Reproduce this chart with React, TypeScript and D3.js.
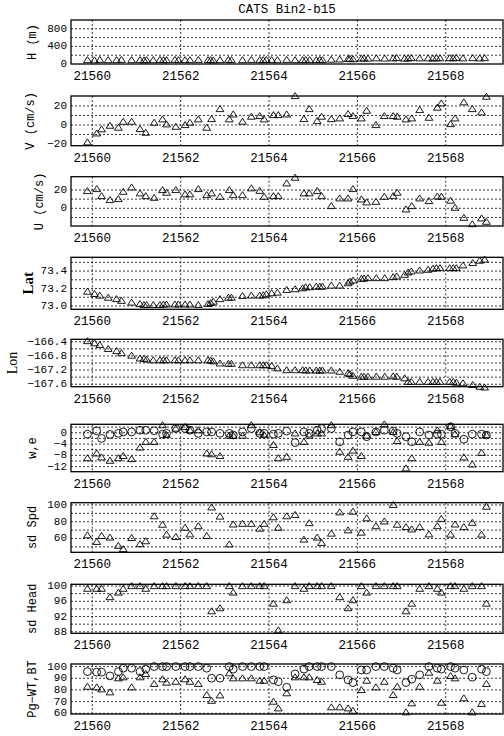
import React from "react";
import * as d3 from "d3";

// ---------- data ----------
const navTimes = [
  21559.89, 21560.05, 21560.17, 21560.36, 21560.55, 21560.66, 21560.89, 21561.08, 21561.17, 21561.23,
  21561.38, 21561.53, 21561.61, 21561.68, 21561.87, 21561.95, 21562.10, 21562.21, 21562.40, 21562.62,
  21562.68, 21562.74, 21562.89, 21563.08, 21563.15, 21563.40, 21563.60, 21563.79, 21563.87, 21563.94,
  21564.06, 21564.19, 21564.40, 21564.59, 21564.76, 21564.83, 21564.92, 21565.07, 21565.15, 21565.21,
  21565.41, 21565.60, 21565.79, 21565.83, 21565.90, 21566.09, 21566.15, 21566.24, 21566.43, 21566.62,
  21566.81, 21566.89, 21567.07, 21567.15, 21567.22, 21567.41, 21567.60, 21567.71, 21567.79, 21567.87,
  21568.09, 21568.17, 21568.24, 21568.39, 21568.61, 21568.77, 21568.88,
];
const hVals = [
  90, 85, 95, 90, 90, 95, 90, 90, 85, 90,
  90, 95, 90, 90, 95, 90, 90, 90, 95, 90,
  90, 85, 90, 95, 90, 90, 95, 90, 90, 95,
  90, 90, 95, 90, 90, 95, 90, 90, 95, 90,
  100, 105, 115, 120, 110, 125, 130, 125, 130, 125,
  130, 135, 125, 130, 135, 130, 130, 125, 135, 130,
  135, 130, 140, 130, 135, 130, 135,
];
const latVals = [
  73.165, 73.139, 73.12, 73.096, 73.08, 73.06, 73.04, 73.023, 73.012, 73.012,
  73.012, 73.012, 73.018, 73.018, 73.018, 73.018, 73.018, 73.018, 73.012, 73.023,
  73.035, 73.05, 73.08, 73.096, 73.096, 73.116, 73.12, 73.12, 73.124, 73.135,
  73.147, 73.154, 73.185, 73.193, 73.204, 73.216, 73.216, 73.223, 73.223, 73.223,
  73.235, 73.235, 73.262, 73.281, 73.293, 73.312, 73.316, 73.32, 73.32, 73.32,
  73.332, 73.339, 73.358, 73.385, 73.397, 73.408, 73.416, 73.428, 73.435, 73.435,
  73.435, 73.435, 73.435, 73.466, 73.493, 73.52, 73.532,
];
const lonVals = [
  -166.38, -166.44, -166.49, -166.6, -166.66, -166.72, -166.79, -166.87, -166.88, -166.9,
  -166.92, -166.92, -166.92, -166.92, -166.92, -166.92, -166.92, -166.92, -166.92, -166.92,
  -166.93, -166.95, -167.01, -167.02, -167.02, -167.06, -167.06, -167.06, -167.06, -167.06,
  -167.08, -167.15, -167.2, -167.2, -167.2, -167.21, -167.21, -167.21, -167.21, -167.21,
  -167.21, -167.245, -167.29, -167.31, -167.36, -167.385, -167.385, -167.385, -167.385, -167.385,
  -167.375, -167.385, -167.43, -167.53, -167.53, -167.53, -167.53, -167.53, -167.53, -167.53,
  -167.53, -167.53, -167.555, -167.57, -167.62, -167.67, -167.69,
];

const adcpTimes = [
  21559.89, 21560.10, 21560.21, 21560.40, 21560.59, 21560.70, 21560.89, 21561.08, 21561.21, 21561.40,
  21561.59, 21561.68, 21561.89, 21562.10, 21562.21, 21562.40, 21562.59, 21562.70, 21562.89, 21563.10,
  21563.19, 21563.40, 21563.60, 21563.79, 21563.89, 21564.10, 21564.21, 21564.40, 21564.59, 21564.79,
  21564.91, 21565.09, 21565.19, 21565.41, 21565.60, 21565.79, 21565.90, 21566.09, 21566.21, 21566.42,
  21566.61, 21566.81, 21566.90, 21567.10, 21567.23, 21567.41, 21567.62, 21567.81, 21567.90, 21568.11,
  21568.21, 21568.41, 21568.60, 21568.81, 21568.92,
];
const vVals = [
  -18.2, -8.8, -4.5, -0.7, -2.8, 3.5, 3.5, -4.2, -8.1, 2.5,
  6, 0.7, -1.8, 0, 2.5, 6, -2.8, 6.3, 16.8, 6,
  11.2, 3.5, 8.8, 9.5, 6, 10.5, 10.5, 11.2, 30.5, 6.3,
  16.8, 4.2, 8.8, 6.3, 7, 11.6, 9.5, 7, 15.1, 0,
  9.5, 9.5, 8.8, 6, 7, 15.8, 7.7, 18.3, 22.8, 1,
  7, 23.9, 16.8, 13.3, 29.8,
];
const uVals = [
  18.9, 21.1, 13.4, 9.1, 10.2, 18.1, 22.9, 16.4, 13.4, 11.6,
  20, 17.1, 20, 15.3, 15.3, 21.1, 14.5, 16.4, 12.7, 20,
  14.5, 14.5, 21.9, 19.2, 12.7, 13.4, 13.4, 27.3, 33.5, 16.4,
  16.4, 18.9, 13.4, 2.5, 10.9, 10.9, 21.1, 9.8, 6.6, 7.2,
  12.7, 13.4, 17.1, -1.1, 2.5, 10.9, 8, 13, 12.7, 8.4,
  0.7, -10.3, -17.2, -10.9, -14.6,
];
const wVals = [
  -9.0, -7.3, -8.7, -9.9, -9.0, -8.2, -9.3, -5.2, -3.2, -3.2,
  2.7, -0.8, 1.5, 2.1, 0.9, 0.9, -7.3, -7.6, -8.2, -1.0,
  -1.0, -1.0, 2.7, 0.2, -0.8, -4.3, -9.0, -8.5, -0.2, -3.2,
  -1.0, -0.2, -0.2, 2.7, -6.7, -8.5, -6.3, -8.2, -1.0, 0.3,
  3.0, 0.3, -2.9, -12.6, -9.0, -3.2, -3.5, 0.9, -3.2, 2.4,
  -0.5, -8.7, -11.2, -7.1, -0.8,
];
const eVals = [
  -0.5, 0.7, -2.0, -0.6, -0.2, 0.3, 0.3, 0.9, 0.9, 0.7,
  -0.5, -0.2, 1.5, 1.5, 0.9, -0.2, 0.3, 0.3, -0.2, -0.2,
  -0.8, 0.3, 1.5, -0.2, -0.2, -0.5, -0.2, 0.6, -3.5, 0.3,
  -0.2, 0.9, 1.5, 1.5, -3.2, -0.8, 0.3, 0.3, -1.4, 0.3,
  0.9, 0.6, -0.2, -1.4, -3.2, 0.3, -0.8, -0.5, -0.5, 2.1,
  -0.2, -2.3, -0.5, -0.5, -0.8,
];
const sdSpdVals = [
  63.9, 56, 63.1, 61.2, 51.3, 47.4, 60.7, 53.3, 56.8, 86.6,
  76.5, 64.7, 61.9, 72.9, 65, 74.8, 63.1, 97.2, 86.2, 53,
  76.8, 77.6, 77.6, 71.8, 77.6, 85.4, 72.9, 86.6, 88.2, 58.8,
  78.4, 61.2, 54.8, 65.9, 91.3, 69.8, 92.1, 67.1, 84.2, 74.8,
  80.4, 100, 76.5, 73.7, 70.9, 73.7, 65, 74.8, 83.5, 64.7,
  76.8, 73.7, 78.8, 64.7, 98,
];
const sdHeadVals = [
  99.3, 99.3, 99.3, 97.1, 98.3, 99.3, 100, 100, 99.3, 100,
  100, 100, 100, 100, 100, 100, 100, 93.4, 94.2, 100,
  98.3, 100, 100, 100, 100, 95.4, 88.4, 96.3, 100, 99.3,
  100, 100, 100, 100, 97.1, 94.2, 96.3, 100, 98.3, 100,
  100, 100, 100, 93.4, 95.4, 99.3, 100, 99.3, 98.3, 100,
  100, 99.3, 100, 100, 95.4,
];
const pgBtVals = [
  95.7, 95.2, 95.2, 92, 95.7, 98.6, 98.6, 95.7, 97.8, 100,
  100, 100, 100, 100, 100, 100, 98.6, 90, 90, 100,
  97.8, 100, 100, 100, 100, 88.6, 87.1, 82.3, 93.7, 97.8,
  100, 100, 100, 100, 92.9, 88.6, 86.3, 97.1, 97.1, 100,
  100, 98.6, 97.1, 86.3, 89.2, 92.9, 100, 98.6, 97.8, 100,
  98.6, 97.1, 90.9, 97.8, 95.7,
];
const pgWtVals = [
  82.8, 82.3, 80.6, 78, 90, 90.9, 82.3, 90.9, 93.7, 85.2,
  89.2, 86.3, 87.1, 89.2, 87.1, 85.2, 75.7, 70.8, 75.4, 94.3,
  90, 90, 90, 88, 88, 70, 64.3, 77.2, 90.9, 90.9,
  90.9, 88.6, 87.1, 65.2, 65.2, 64.3, 62.2, 80, 88, 82.3,
  87.1, 75.7, 82.8, 60.9, 68.6, 82.8, 94.8, 88, 69.1, 92,
  90, 72.9, 60.9, 68, 85.2,
];

const xTicks = [21560, 21562, 21564, 21566, 21568];
const title = "CATS Bin2-b15";

// ---------- layout ----------
const W = 504;
const H = 736;
const LEFT = 71;
const RIGHT = 503;
const MONO = "'Liberation Mono', 'DejaVu Sans Mono', monospace";
const SERIF = "'Liberation Serif', 'DejaVu Serif', serif";

type Series = { t: number[]; v: number[]; shape: "tri" | "circ" };
type Panel = {
  label: string;
  labelX: number;
  labelFont?: string;
  labelSize?: number;
  labelWeight?: string;
  top: number;
  bottom: number;
  domain: [number, number];
  ticks: number[];
  grid: number[];
  fmt: (v: number) => string;
  series: Series[];
};

const minus = (s: string) => s.replace("-", "\u2212");
const fInt = (v: number) => minus(d3.format("d")(v));
const f1 = (v: number) => minus(d3.format(".1f")(v));

const panels: Panel[] = [
  {
    label: "H (m)", labelX: 33, top: 20, bottom: 64, domain: [0, 1000],
    ticks: [0, 400, 800], grid: [200, 400, 600, 800], fmt: fInt,
    series: [{ t: navTimes, v: hVals, shape: "tri" }],
  },
  {
    label: "V (cm/s)", labelX: 31, top: 96, bottom: 145.7, domain: [-21.8, 30.5],
    ticks: [-20, 0, 20], grid: [-10, 0, 10, 20], fmt: fInt,
    series: [{ t: adcpTimes, v: vVals, shape: "tri" }],
  },
  {
    label: "U (cm/s)", labelX: 40, top: 176.7, bottom: 226, domain: [-19.3, 34.5],
    ticks: [0, 20], grid: [-10, 0, 10, 20], fmt: fInt,
    series: [{ t: adcpTimes, v: uVals, shape: "tri" }],
  },
  {
    label: "Lat", labelX: 28, labelFont: SERIF, labelSize: 15, labelWeight: "bold",
    top: 257.3, bottom: 309.3, domain: [72.962, 73.558],
    ticks: [73.0, 73.2, 73.4], grid: [73.0, 73.1, 73.2, 73.3, 73.4, 73.5], fmt: f1,
    series: [{ t: navTimes, v: latVals, shape: "tri" }],
  },
  {
    label: "Lon", labelX: 12, labelFont: SERIF, labelSize: 14,
    top: 339.3, bottom: 386.7, domain: [-167.67, -166.33],
    ticks: [-167.6, -167.2, -166.8, -166.4],
    grid: [-167.6, -167.4, -167.2, -167.0, -166.8, -166.6, -166.4], fmt: f1,
    series: [{ t: navTimes, v: lonVals, shape: "tri" }],
  },
  {
    label: "w,e", labelX: 33, top: 424.3, bottom: 471.7, domain: [-13.8, 3],
    ticks: [-12, -8, -4, 0], grid: [-12, -10, -8, -6, -4, -2, 0, 2], fmt: fInt,
    series: [
      { t: adcpTimes, v: eVals, shape: "circ" },
      { t: adcpTimes, v: wVals, shape: "tri" },
    ],
  },
  {
    label: "sd Spd", labelX: 33, top: 502.7, bottom: 552.3, domain: [43.5, 102.7],
    ticks: [60, 80, 100], grid: [50, 60, 70, 80, 90, 100], fmt: fInt,
    series: [{ t: adcpTimes, v: sdSpdVals, shape: "tri" }],
  },
  {
    label: "sd Head", labelX: 33, top: 584.3, bottom: 633.3, domain: [87.6, 100.45],
    ticks: [88, 92, 96, 100], grid: [88, 90, 92, 94, 96, 98, 100], fmt: fInt,
    series: [{ t: adcpTimes, v: sdHeadVals, shape: "tri" }],
  },
  {
    label: "Pg\u2212WT,BT", labelX: 33, top: 664, bottom: 714, domain: [59.4, 102.2],
    ticks: [60, 70, 80, 90, 100], grid: [60, 70, 80, 90, 100], fmt: fInt,
    series: [
      { t: adcpTimes, v: pgBtVals, shape: "circ" },
      { t: adcpTimes, v: pgWtVals, shape: "tri" },
    ],
  },
];

const x = d3.scaleLinear().domain([21559.518, 21569.296]).range([LEFT, RIGHT]);
const triPath = "M0,-3.4L3.9,2.6L-3.9,2.6Z";

function PanelView({ p }: { p: Panel }) {
  const y = d3.scaleLinear().domain(p.domain).range([p.bottom, p.top]);
  const mid = (p.top + p.bottom) / 2;
  return (
    <g>
      {p.grid.map((g) => (
        <line key={"hg" + g} x1={LEFT} x2={RIGHT} y1={y(g)} y2={y(g)}
          stroke="#000" strokeWidth={0.8} strokeDasharray="2,2" />
      ))}
      {xTicks.map((t) => (
        <line key={"vg" + t} x1={x(t)} x2={x(t)} y1={p.top} y2={p.bottom}
          stroke="#000" strokeWidth={0.8} strokeDasharray="2,2" />
      ))}
      <rect x={LEFT} y={p.top} width={RIGHT - LEFT} height={p.bottom - p.top}
        fill="none" stroke="#000" strokeWidth={1.3} />
      {p.series.map((s, si) =>
        s.t.map((t, i) =>
          s.shape === "tri" ? (
            <path key={si + "-" + i} d={triPath} transform={`translate(${x(t)},${y(s.v[i])})`}
              fill="none" stroke="#000" strokeWidth={0.9} />
          ) : (
            <circle key={si + "-" + i} cx={x(t)} cy={y(s.v[i])} r={3.9}
              fill="none" stroke="#000" strokeWidth={0.9} />
          )
        )
      )}
      {p.ticks.map((tk) => (
        <text key={"yt" + tk} x={67} y={y(tk)} textAnchor="end" dominantBaseline="central"
          fontFamily={MONO} fontSize={11}>{p.fmt(tk)}</text>
      ))}
      {xTicks.map((t) => (
        <text key={"xt" + t} x={x(t)} y={p.bottom + 13} textAnchor="middle" dominantBaseline="central"
          fontFamily={MONO} fontSize={12.5}>{d3.format("d")(t)}</text>
      ))}
      <text transform={`translate(${p.labelX},${mid}) rotate(-90)`} textAnchor="middle"
        dominantBaseline="central" fontFamily={p.labelFont ?? MONO} fontSize={p.labelSize ?? 12}
        fontWeight={p.labelWeight ?? "normal"}>{p.label}</text>
    </g>
  );
}

export default function App() {
  return (
    <svg width={W} height={H} style={{ position: "absolute", left: 0, top: 0, background: "#fff" }}>
      <rect x={0} y={0} width={W} height={H} fill="#fff" />
      <text x={287} y={10} textAnchor="middle" dominantBaseline="central" fontFamily={MONO} fontSize={12.5}>
        {title}
      </text>
      {panels.map((p) => (
        <PanelView key={p.label} p={p} />
      ))}
    </svg>
  );
}
